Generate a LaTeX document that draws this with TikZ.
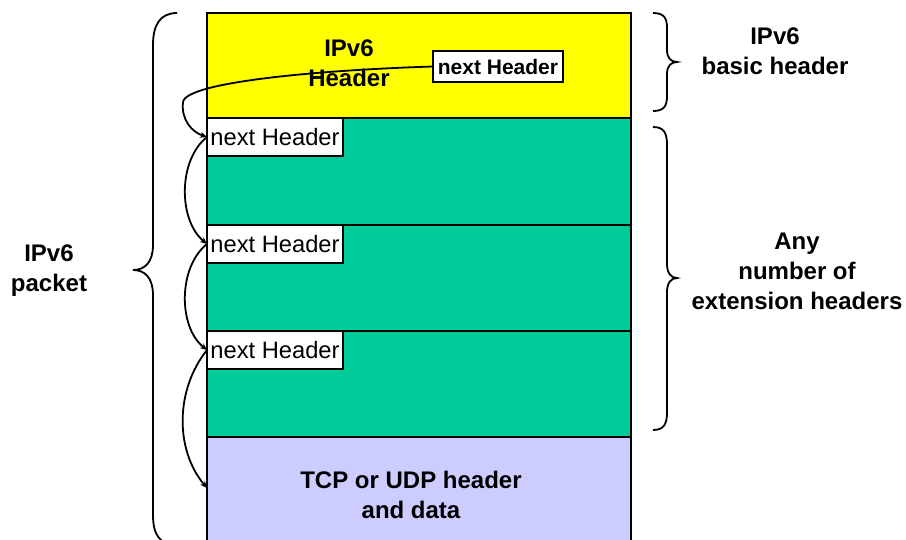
\documentclass[tikz,border=0pt]{standalone}
\usepackage{fontspec}
\setmainfont{Liberation Sans}
\usetikzlibrary{arrows.meta}
\definecolor{hdryellow}{HTML}{FFFF00}
\definecolor{extgreen}{HTML}{00CC99}
\definecolor{datablue}{HTML}{CCCCFF}
\begin{document}
\begin{tikzpicture}[x=1pt,y=-1pt,
  section/.style={draw=black,line width=2.2pt,minimum width=424pt,inner sep=0pt,outer sep=0pt},
  nhbox/.style={draw=black,line width=1.8pt,fill=white,minimum width=136pt,minimum height=38pt,inner sep=0pt,outer sep=0pt,font=\fontsize{23.7}{28}\selectfont},
  nhbold/.style={draw=black,line width=1.8pt,fill=white,minimum width=130pt,minimum height=31pt,inner sep=0pt,outer sep=0pt,font=\fontsize{21}{24}\selectfont\bfseries},
  lbl/.style={align=center,font=\fontsize{24}{30}\selectfont\bfseries},
  link/.style={line width=1.8pt,-{Stealth[length=7pt,width=6pt]}},
  brace/.style={line width=1.8pt}]
\clip (0,0) rectangle (906,539);
% sections
\node[section,fill=hdryellow,minimum height=105pt] (basic) at (419,65.5) {};
\node[section,fill=extgreen,minimum height=107pt] (ext1) at (419,171.5) {};
\node[section,fill=extgreen,minimum height=106pt] (ext2) at (419,278) {};
\node[section,fill=extgreen,minimum height=106pt] (ext3) at (419,384) {};
\node[section,fill=datablue,minimum height=108pt] (data) at (419,491) {};
% texts in sections
\node[lbl] (basictxt) at (349,63) {IPv6\\Header};
\node[lbl] (datatxt) at (411,495) {TCP or UDP header\\and data};
% next header boxes
\node[nhbold] (nh0) at (498,66.5) {next Header};
\node[nhbox] (nh1) at (275,137) {next Header};
\node[nhbox] (nh2) at (275,244) {next Header};
\node[nhbox] (nh3) at (275,350) {next Header};
\coordinate (tgt) at (207,488);
% chain arrows
\draw[link] (nh0.west) .. controls (320,70) and (186,82) .. (183,102) .. controls (181,120) and (192,132) .. (nh1.west);
\draw[link] (nh1.west) .. controls (178,160) and (178,220) .. (nh2.west);
\draw[link] (nh2.west) .. controls (178,267) and (178,327) .. (nh3.west);
\draw[link] (nh3.west) .. controls (175,390) and (175,450) .. (tgt);
% braces
\coordinate (lbtip) at (133,270);
\coordinate (rb1tip) at (677,62);
\coordinate (rb2tip) at (677,278);
\draw[brace] (177,13) .. controls (160,13) and (153,25) .. (153,45) -- (153,245)
  .. controls (153,262) and (145,270) .. (lbtip)
  .. controls (145,270) and (153,278) .. (153,295) -- (153,515)
  .. controls (153,535) and (160,545) .. (177,545);
\draw[brace] (653,13) .. controls (664,13) and (667,18) .. (667,28) -- (667,50)
  .. controls (667,58) and (671,62) .. (rb1tip)
  .. controls (671,62) and (667,66) .. (667,74) -- (667,96)
  .. controls (667,106) and (664,111) .. (653,111);
\draw[brace] (653,127) .. controls (664,127) and (667,133) .. (667,145) -- (667,264)
  .. controls (667,273) and (671,278) .. (rb2tip)
  .. controls (671,278) and (667,283) .. (667,292) -- (667,412)
  .. controls (667,424) and (664,430) .. (653,430);
% side labels
\node[lbl] (pkt) at (49,271) {IPv6\\packet};
\node[lbl] (basiclbl) at (775,51) {IPv6\\basic header};
\node[lbl] (extlbl) at (797,271) {Any\\number of\\extension headers};
\end{tikzpicture}
\end{document}
